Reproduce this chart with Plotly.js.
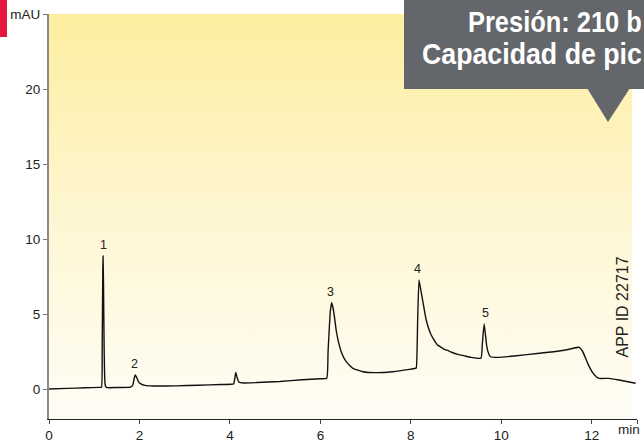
<!DOCTYPE html>
<html>
<head>
<meta charset="utf-8">
<script src="https://cdn.plot.ly/plotly-3.0.1.min.js"></script>
<style>
  html, body { margin: 0; padding: 0; background: #ffffff; }
  #chart { width: 644px; height: 442px; }
</style>
</head>
<body>
<div id="chart"></div>
<script>
// ---- Data ----
const timeMin = [
  0.00, 0.40, 0.80, 1.10, 1.16, 1.175, 1.19, 1.195, 1.205, 1.22, 1.24, 1.27, 1.50,
  1.80, 1.85, 1.89, 1.91, 1.94, 1.98, 2.04, 2.12, 2.30, 2.80, 3.30, 3.80,
  4.08, 4.11, 4.13, 4.16, 4.20, 4.30, 4.60, 5.10, 5.60, 6.00, 6.14,
  6.17, 6.22, 6.25, 6.28, 6.31, 6.35, 6.39, 6.46, 6.57, 6.72, 6.94, 7.23, 7.60, 7.97,
  8.10, 8.12, 8.15, 8.18, 8.22, 8.26, 8.34, 8.45, 8.59, 8.70, 8.74, 8.78, 8.82, 8.86,
  8.90, 9.04, 9.20, 9.33, 9.55, 9.58, 9.62, 9.65, 9.68, 9.72, 9.76, 9.92,
  10.29, 10.84, 11.28, 11.50, 11.72, 11.79, 11.85, 11.91, 12.02, 12.10, 12.16,
  12.38, 12.60, 12.97
];
const absorbance = [
  0.00, 0.04, 0.08, 0.11, 0.12, 2.50, 8.00, 8.87, 7.00, 2.50, 0.30, 0.10, 0.10,
  0.12, 0.25, 0.80, 0.93, 0.75, 0.48, 0.32, 0.24, 0.20, 0.21, 0.25, 0.30,
  0.34, 0.75, 1.11, 0.75, 0.45, 0.40, 0.43, 0.50, 0.62, 0.68, 0.71,
  2.50, 5.20, 5.75, 5.40, 4.82, 3.90, 3.27, 2.49, 1.82, 1.38, 1.15, 1.09, 1.15, 1.31,
  1.38, 1.40, 4.50, 7.27, 6.60, 5.93, 4.60, 3.60, 2.93, 2.72, 2.64, 2.60, 2.58, 2.50,
  2.45, 2.31, 2.20, 2.11, 2.05, 3.00, 4.33, 3.60, 2.82, 2.35, 2.15, 2.11,
  2.20, 2.38, 2.53, 2.65, 2.78, 2.55, 2.15, 1.71, 1.09, 0.82, 0.71,
  0.71, 0.60, 0.38
];
const peakLabels = ['1', '2', '3', '4', '5'];
const peakTimes = [1.195, 1.88, 6.22, 8.15, 9.64];
const peakApex = [8.87, 0.93, 5.75, 7.27, 4.33];

const xTickVals = [0, 2, 4, 6, 8, 10, 12, 13];
const xTickText = ['0', '2', '4', '6', '8', '10', '12', ''];
const yTickVals = [0, 5, 10, 15, 20, 25];
const yTickText = ['0', '5', '10', '15', '20', 'mAU'];

// Callout text as visible in the reference (cut by the right edge there)
const calloutLines = ['Presión: 210 b', 'Capacidad de pic'];
const appId = 'APP ID 22717';
const xUnit = 'min';

// ---- Layout helpers (pixel -> paper) ----
const W = 644, H = 442;
const M = { l: 49, r: 7, t: 14, b: 23 };
const PW = W - M.l - M.r, PH = H - M.t - M.b;
const px = v => (v - M.l) / PW;
const py = v => (H - M.b - v) / PH;

const baseFont = 'Liberation Sans, Arial, Helvetica, sans-serif';
const tickSize = 13.5;
const calloutSize = 30;
// callout line boxes in pixels: [left, right, centerY]
const calloutBoxes = [[468, 642, 21], [422, 642, 54]];

const background = {
  x: [0, 12.89, 12.89, 0, 0],
  y: [-2, -2, 25.2, 25.2, -2],
  mode: 'lines',
  fill: 'toself',
  line: { width: 0 },
  fillgradient: {
    type: 'vertical',
    colorscale: [[0, '#FFFDF6'], [0.5, '#FEF6D2'], [1, '#FDEE9E']]
  },
  hoverinfo: 'skip',
  showlegend: false
};

const trace = {
  x: timeMin,
  y: absorbance,
  mode: 'lines',
  line: { color: '#111111', width: 1.4, shape: 'spline', smoothing: 0.4 },
  hoverinfo: 'x+y',
  showlegend: false
};

const annotations = peakLabels.map((t, i) => ({
  x: peakTimes[i], y: peakApex[i], xref: 'x', yref: 'y',
  text: t, showarrow: false, yanchor: 'middle', yshift: 11,
  font: { family: baseFont, size: 12.5, color: '#222222' }
}));

const calloutStart = annotations.length;
calloutLines.forEach((t, i) => {
  const b = calloutBoxes[i];
  annotations.push({
    x: px((b[0] + b[1]) / 2), y: py(b[2]), xref: 'paper', yref: 'paper',
    text: t, showarrow: false, xanchor: 'center', yanchor: 'middle',
    font: { family: baseFont, size: calloutSize, color: '#ffffff', weight: 'bold' }
  });
});
annotations.push({
  x: px(621.5), y: py(307), xref: 'paper', yref: 'paper',
  text: appId, showarrow: false, textangle: -90,
  xanchor: 'center', yanchor: 'middle',
  font: { family: baseFont, size: 16, color: '#222222' }
});
annotations.push({
  x: 13, y: py(429), xref: 'x', yref: 'paper',
  text: xUnit, showarrow: false, xanchor: 'right', yanchor: 'middle', xshift: 5,
  font: { family: baseFont, size: tickSize, color: '#222222' }
});

const shapes = [
  { type: 'rect', xref: 'paper', yref: 'paper',
    x0: px(404), x1: px(660), y0: py(89), y1: py(-10),
    fillcolor: '#63666B', line: { width: 0 }, layer: 'above' },
  { type: 'path', xref: 'paper', yref: 'paper',
    path: `M ${px(587)},${py(88)} L ${px(630)},${py(88)} L ${px(608)},${py(122)} Z`,
    fillcolor: '#63666B', line: { width: 0 }, layer: 'above' },
  { type: 'rect', xref: 'paper', yref: 'paper',
    x0: px(-5), x1: px(7), y0: py(37), y1: py(-5),
    fillcolor: '#E5173F', line: { width: 0 }, layer: 'above' }
];

const layout = {
  width: W, height: H,
  margin: { l: M.l, r: M.r, t: M.t, b: M.b, pad: 0 },
  paper_bgcolor: '#ffffff',
  plot_bgcolor: 'rgba(0,0,0,0)',
  showlegend: false,
  xaxis: {
    range: [0, 13], tickvals: xTickVals, ticktext: xTickText,
    ticks: 'outside', ticklen: 4, tickwidth: 1, tickcolor: '#444444',
    showline: true, linecolor: '#222222', linewidth: 1,
    showgrid: false, zeroline: false, fixedrange: true,
    tickfont: { family: baseFont, size: tickSize, color: '#222222' }
  },
  yaxis: {
    range: [-2, 25], tickvals: yTickVals, ticktext: yTickText,
    ticks: 'outside', ticklen: 4, tickwidth: 1, tickcolor: '#777777',
    showline: true, linecolor: '#8a8a8a', linewidth: 2,
    showgrid: false, zeroline: false, fixedrange: true,
    tickfont: { family: baseFont, size: tickSize, color: '#222222' }
  },
  annotations: annotations,
  shapes: shapes
};

const gd = document.getElementById('chart');
const calloutEl = i => gd.querySelector(
  `g.annotation[data-index="${calloutStart + i}"] text.annotation-text`);

Plotly.newPlot(gd, [background, trace], layout, { displayModeBar: false, responsive: false })
  .then(() => {
    // Fit each callout line to its box width (font size), then stretch it
    // vertically so it looks like the condensed bold face of the reference.
    const upd = {};
    const sizes = [];
    calloutLines.forEach((t, i) => {
      const el = calloutEl(i);
      const natural = el ? el.getComputedTextLength() : 0;
      const target = calloutBoxes[i][1] - calloutBoxes[i][0];
      const size = natural > 0 ? calloutSize * target / natural : calloutSize;
      sizes.push(size);
      upd[`annotations[${calloutStart + i}].font.size`] = size;
    });
    return Plotly.relayout(gd, upd).then(() => sizes);
  })
  .then(sizes => {
    sizes.forEach((size, i) => {
      const el = calloutEl(i);
      if (!el) return;
      const sy = calloutSize / size;
      el.style.transformBox = 'fill-box';
      el.style.transformOrigin = 'center center';
      el.style.transform = `scaleY(${sy.toFixed(4)})`;
    });
  });
</script>
</body>
</html>
